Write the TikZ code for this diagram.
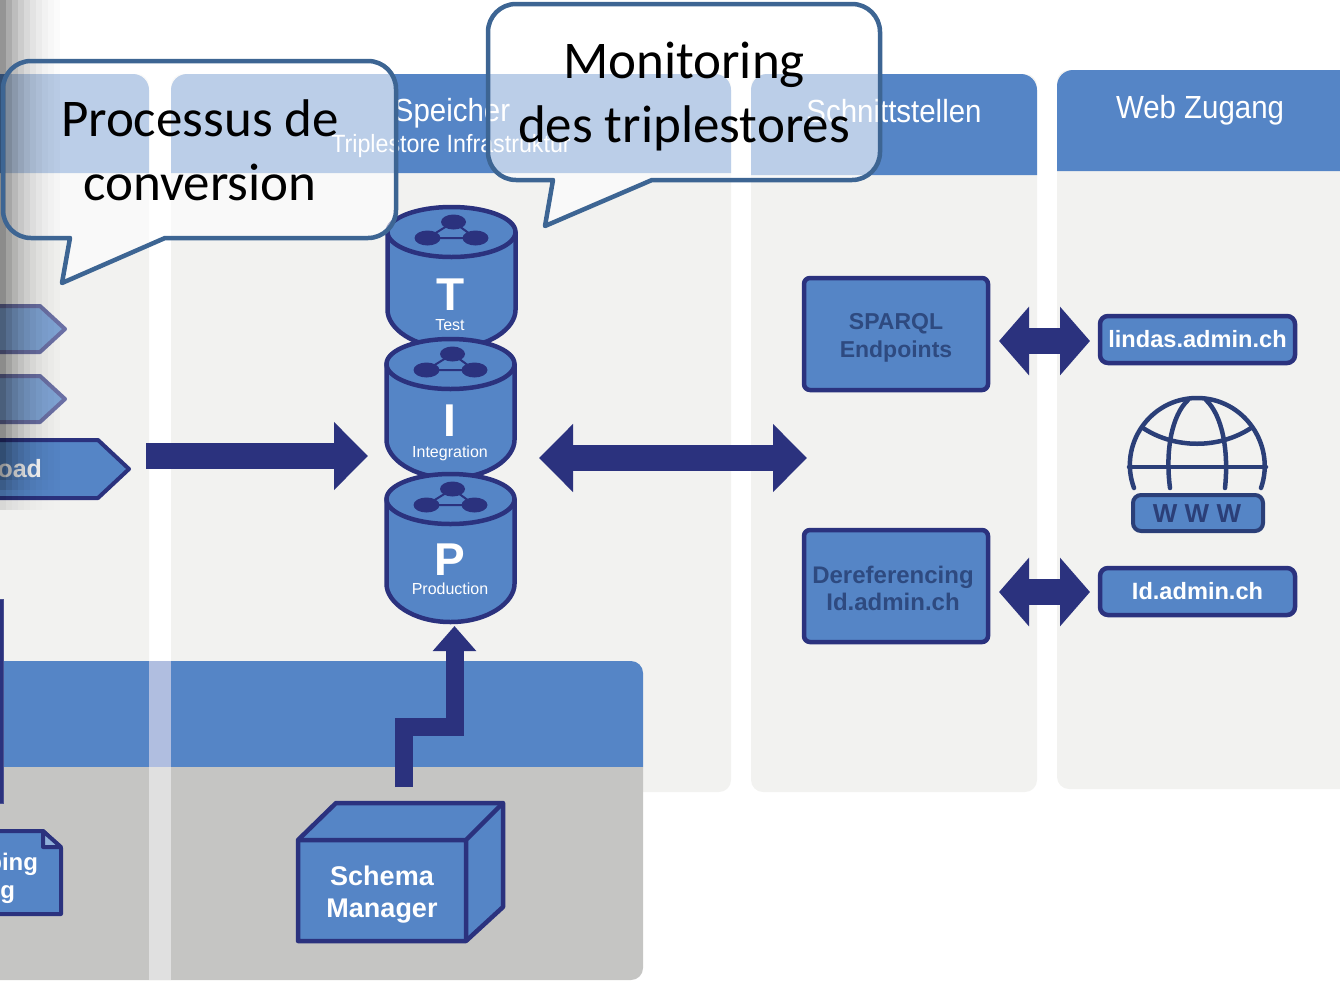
\documentclass[tikz,border=0pt]{standalone}
\usepackage{fontspec}
\setmainfont{Liberation Sans}
\newfontfamily\callfont{Carlito}
\usetikzlibrary{arrows.meta}
\definecolor{hdr}{HTML}{5585C6}
\definecolor{pale}{HTML}{F2F2F0}
\definecolor{band}{HTML}{C5C5C3}
\definecolor{navy}{HTML}{2B327E}
\definecolor{calline}{HTML}{3D6593}
\definecolor{dktext}{HTML}{2E4A80}
\definecolor{globec}{HTML}{2B3F78}
\definecolor{gapblue}{HTML}{B0BEE0}
\definecolor{gapgray}{HTML}{E0E0E0}
\tikzset{
  x=1pt,y=-1pt,
  every node/.style={inner sep=0pt,outer sep=0pt,align=center},
  hdrtext/.style={text=white,font=\fontsize{32}{34}\selectfont,xscale=.92},
  subtext/.style={text=white,font=\fontsize{25}{27}\selectfont,xscale=.93},
  boxshape/.style={draw=navy,line width=4.5pt,fill=hdr,rounded corners=6pt},
  boxtext/.style={text=dktext,font=\bfseries\fontsize{23}{28}\selectfont},
  linktext/.style={text=white,font=\bfseries\fontsize{23.6}{26}\selectfont},
  whitebold/.style={text=white,font=\bfseries\fontsize{27}{32}\selectfont},
  cyl/.style={draw=navy,line width=4.5pt,fill=hdr,line join=round},
  bigletter/.style={text=white,font=\bfseries\fontsize{46}{46}\selectfont},
  smallletter/.style={text=white,font=\fontsize{16}{18}\selectfont},
  flow/.style={draw=navy,line width=26pt,-{Triangle[length=34pt,width=66pt]}},
  dflow/.style={draw=navy,line width=26pt,{Triangle[length=34pt,width=66pt]}-{Triangle[length=34pt,width=66pt]}},
  sflow/.style={draw=navy,line width=26pt,{Triangle[length=30pt,width=67pt]}-{Triangle[length=30pt,width=67pt]}},
  calloutfill/.style={fill=white,fill opacity=.6},
  calloutline/.style={draw=calline,line width=4.5pt,line join=round},
  calltext/.style={text=black,font=\callfont\fontsize{53}{64}\selectfont},
  globeline/.style={draw=globec,line width=4.5pt,line cap=round},
}
\newcommand{\cylinder}[4]{% x-centre, top-centre y, bottom-centre y, half width
  \draw[cyl] (#1-#4,#2) -- (#1-#4,#3-12) .. controls (#1-#4,#3+6) and (#1-#4*.6,#3+26) .. (#1,#3+26)
    .. controls (#1+#4*.6,#3+26) and (#1+#4,#3+6) .. (#1+#4,#3-12) -- (#1+#4,#2) -- cycle;
  \draw[cyl] (#1,#2) ellipse [x radius=#4,y radius=25];
  \draw[draw=navy,line width=2pt] (#1+2,#2-10) -- (#1-24,#2+6) -- (#1+24,#2+6) -- cycle;
  \fill[navy] (#1+2,#2-10) ellipse [x radius=12.5,y radius=7.5];
  \fill[navy] (#1-24,#2+6) ellipse [x radius=13,y radius=7.5];
  \fill[navy] (#1+24,#2+6) ellipse [x radius=13,y radius=7.5];
}
\newcommand{\calloutOne}{(31,61) -- (368,61) arc[start angle=270,end angle=360,radius=28] -- (396,210) arc[start angle=0,end angle=90,radius=28] -- (165,238) -- (62,283) -- (70,238) -- (31,238) arc[start angle=90,end angle=180,radius=28] -- (3,89) arc[start angle=180,end angle=270,radius=28] -- cycle}
\newcommand{\calloutTwo}{(516,4) -- (852,4) arc[start angle=270,end angle=360,radius=28] -- (880,152) arc[start angle=0,end angle=90,radius=28] -- (652,180) -- (545,226) -- (553,180) -- (516,180) arc[start angle=90,end angle=180,radius=28] -- (488,32) arc[start angle=180,end angle=270,radius=28] -- cycle}
\begin{document}
\begin{tikzpicture}
\useasboundingbox (0,0) rectangle (1340,980);
\clip (0,0) rectangle (1340,980);
% columns
\fill[pale,rounded corners=12pt] (-30,74) rectangle (149,830);
\fill[pale,rounded corners=12pt] (171,74) rectangle (731,792);
\fill[pale,rounded corners=12pt] (751,74) rectangle (1037,792);
\fill[pale,rounded corners=12pt] (1057,70) rectangle (1370,789);
% headers
\fill[hdr] (-30,173) -- (-30,74) -- (133,74) arc[start angle=270,end angle=360,radius=16] -- (149,173) -- cycle;
\fill[hdr] (171,173) -- (171,90) arc[start angle=180,end angle=270,radius=16] -- (715,74) arc[start angle=270,end angle=360,radius=16] -- (731,173) -- cycle;
\fill[hdr] (751,175) -- (751,90) arc[start angle=180,end angle=270,radius=16] -- (1021,74) arc[start angle=270,end angle=360,radius=16] -- (1037,175) -- cycle;
\fill[hdr] (1057,171) -- (1057,86) arc[start angle=180,end angle=270,radius=16] -- (1370,70) -- (1370,171) -- cycle;
% lower band
\fill[hdr] (-10,767) -- (-10,661) -- (631,661) arc[start angle=270,end angle=360,radius=12] -- (643,767) -- cycle;
\fill[band] (-10,767) -- (643,767) -- (643,968) arc[start angle=0,end angle=90,radius=12] -- (-10,980) -- cycle;
\fill[gapblue] (149,661) rectangle (171,767);
\fill[gapgray] (149,767) rectangle (171,980);
% header texts
\node[hdrtext] (hSpeicher) at (452,113) {Speicher};
\node[subtext] (hTriple) at (451,146) {Triplestore Infrastruktur};
\node[hdrtext] (hSchnitt) at (894,111) {Schnittstellen};
\node[hdrtext] (hWeb) at (1200,110) {Web Zugang};
% left process shapes
\draw[draw=navy!70!white,line width=4pt,fill=hdr!75!white,line join=round] (-20,306) -- (40,306) -- (65,329) -- (40,352) -- (-20,352) -- cycle;
\draw[draw=navy!70!white,line width=4pt,fill=hdr!75!white,line join=round] (-20,376) -- (40,376) -- (65,399) -- (40,422) -- (-20,422) -- cycle;
\draw[draw=navy,line width=4pt,fill=hdr,line join=round] (-20,440) -- (98,440) -- (129,469) -- (98,498) -- (-20,498) -- cycle;
\node[text=white,font=\bfseries\fontsize{25}{30}\selectfont,anchor=east] (tLoad) at (42,469) {oad};
% left bar and document
\draw[draw=navy!85!white,line width=1pt,fill=navy] (-10,599) rectangle (3,803);
\draw[draw=navy,line width=4pt,fill=hdr,line join=round] (-20,831) -- (43,831) -- (61,848) -- (61,914) -- (-20,914) -- cycle;
\draw[draw=navy,line width=4pt,fill=hdr!65!white,line join=round] (43,831) -- (43,847) -- (61,847) -- cycle;
\node[text=white,font=\bfseries\fontsize{24}{28}\selectfont,anchor=east] (tPing) at (38,864) {ping};
\node[text=white,font=\bfseries\fontsize{24}{28}\selectfont,anchor=east] (tIg) at (15,892) {ig};
% cylinders
\cylinder{451.5}{232}{322}{64}
\cylinder{450.5}{364}{452}{64}
\cylinder{450.5}{499}{596}{64}
\node[bigletter] (lT) at (451,295) {T};
\node[smallletter] (sT) at (450,325) {Test};
\node[bigletter] (lI) at (450,421) {I};
\node[smallletter] (sI) at (450,453) {Integration};
\node[bigletter] (lP) at (450,560) {P};
\node[smallletter] (sP) at (450,589) {Production};
% service boxes
\node[boxshape,minimum width=184pt,minimum height=112pt] (sparql) at (896,334) {};
\node[boxtext] (tSparql) at (896,338) {SPARQL\\Endpoints};
\node[boxshape,minimum width=184pt,minimum height=112pt] (deref) at (896,586) {};
\node[boxtext,font=\bfseries\fontsize{24}{27}\selectfont] (tDeref) at (893,588) {Dereferencing\\Id.admin.ch};
\node[boxshape,rounded corners=8pt,minimum width=195pt,minimum height=47pt] (lindas) at (1197.5,339.5) {};
\node[linktext] (tLindas) at (1197.5,339.5) {lindas.admin.ch};
\node[boxshape,rounded corners=8pt,minimum width=195pt,minimum height=47pt] (idadmin) at (1197.5,591.5) {};
\node[linktext] (tId) at (1197.5,591.5) {Id.admin.ch};
% globe
\draw[globeline] (1134,488) .. controls (1118,445) and (1150,398) .. (1197,398) .. controls (1244,398) and (1276,445) .. (1261,488);
\draw[globeline] (1170,488) .. controls (1165,450) and (1172,415) .. (1188,400);
\draw[globeline] (1225,488) .. controls (1229,450) and (1222,415) .. (1206,400);
\draw[globeline] (1143,428) .. controls (1175,449) and (1219,449) .. (1251,428);
\draw[globeline] (1129,467) -- (1266,467);
\node[draw=globec,line width=4pt,fill=hdr,rounded corners=8pt,minimum width=130pt,minimum height=36pt] (wwwbox) at (1198,513) {};
\node[text=globec,font=\bfseries\fontsize{26}{26}\selectfont] (tWww) at (1197,514) {W W W};
% connectors
\coordinate (aS) at (146,456);
\coordinate (aE) at (368,456);
\draw[flow] (aS) -- (aE);
\coordinate (bS) at (539,458);
\coordinate (bE) at (807,458);
\draw[dflow] (bS) -- (bE);
\coordinate (cS) at (999,341);
\coordinate (cE) at (1090,341);
\draw[sflow] (cS) -- (cE);
\coordinate (dS) at (999,592);
\coordinate (dE) at (1090,592);
\draw[sflow] (dS) -- (dE);
\coordinate (eS) at (403.5,787);
\coordinate (eE) at (454.5,626);
\draw[draw=navy,line width=18pt,-{Triangle[length=25pt,width=42pt]}] (eS) -- (403.5,726.5) -- (454.5,726.5) -- (eE);
% schema cube
\draw[cyl,line join=round] (298,840) -- (336,803) -- (503,803) -- (503,907) -- (466,941) -- (298,941) -- cycle;
\draw[draw=navy,line width=4.5pt,line join=round] (298,840) -- (466,840) -- (503,803) (466,840) -- (466,941);
\node[whitebold] (schema) at (382,895) {Schema\\Manager};
% callout bodies
\fill[calloutfill] \calloutOne;
\fill[calloutfill] \calloutTwo;
% left shadow, fading out at its lower end
\foreach \i/\o in {0/.42,1/.33,2/.26,3/.20,4/.15,5/.11,6/.08,7/.05,8/.03,9/.015}{
  \fill[black,opacity=\o] (\i*6,0) rectangle (\i*6+6,480);
  \fill[black,opacity=\o*.75] (\i*6,480) rectangle (\i*6+6,490);
  \fill[black,opacity=\o*.5] (\i*6,490) rectangle (\i*6+6,500);
  \fill[black,opacity=\o*.25] (\i*6,500) rectangle (\i*6+6,510);
}
% callout outlines and texts
\draw[calloutline] \calloutOne;
\node[calltext] (c1) at (200,150) {Processus de\\conversion};
\draw[calloutline] \calloutTwo;
\node[calltext] (c2) at (684,97) {Monitoring\\des triplestores};
\end{tikzpicture}
\end{document}
